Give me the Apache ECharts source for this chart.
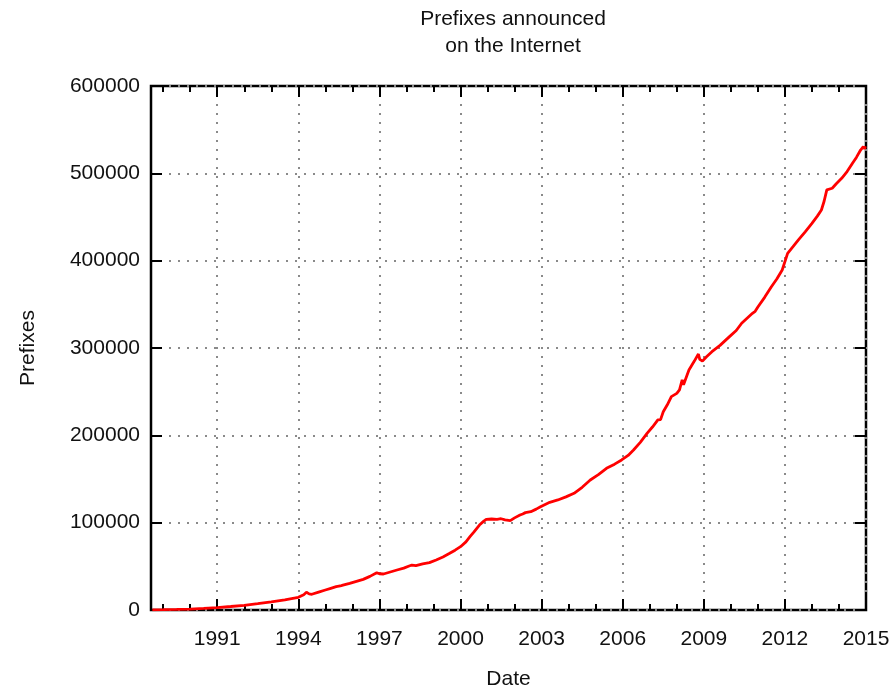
<!DOCTYPE html>
<html>
<head>
<meta charset="utf-8">
<script src="https://cdn.jsdelivr.net/npm/echarts@6/dist/echarts.min.js"></script>
<style>html,body{margin:0;padding:0;background:#fff;}#c{width:891px;height:686px;}</style>
</head>
<body>
<div id="c"></div>
<script>
const years = [1988.6,1989.0,1989.5,1990.0,1990.5,1991.0,1991.5,1992.0,1992.5,1993.0,1993.5,1994.0,1994.2,1994.3,1994.4,1994.5,1994.75,1995.0,1995.2,1995.4,1995.55,1995.6,1995.65,1995.9,1996.15,1996.4,1996.65,1996.9,1997.0,1997.15,1997.4,1997.65,1997.9,1998.1,1998.2,1998.35,1998.6,1998.85,1999.1,1999.35,1999.6,1999.8,2000.0,2000.2,2000.35,2000.5,2000.7,2000.85,2000.95,2001.15,2001.35,2001.5,2001.65,2001.84,2002.0,2002.2,2002.3,2002.4,2002.6,2002.8,2002.96,2003.3,2003.6,2003.9,2004.2,2004.5,2004.8,2005.1,2005.4,2005.7,2005.96,2006.2,2006.4,2006.65,2006.9,2007.1,2007.3,2007.4,2007.5,2007.65,2007.8,2008.0,2008.1,2008.2,2008.25,2008.45,2008.65,2008.8,2008.85,2008.95,2009.1,2009.3,2009.6,2009.95,2010.2,2010.4,2010.6,2010.8,2010.9,2011.0,2011.25,2011.5,2011.7,2011.9,2012.1,2012.3,2012.5,2012.75,2013.0,2013.2,2013.35,2013.45,2013.55,2013.75,2013.9,2014.1,2014.3,2014.5,2014.65,2014.8,2014.9,2014.95,2014.98];
const prefixes = [200,400,700,1100,1800,2800,4000,5400,7200,9200,11700,14500,17500,20300,18500,18000,20500,22900,24800,26700,27500,25500,28500,30500,32800,35100,38500,42700,41500,41200,43500,45800,48000,50400,51500,50800,52700,54200,57300,60800,64900,68500,72500,78000,84000,89500,97300,101500,103800,104200,103800,104500,103200,102300,105500,108800,110000,111500,112600,115500,118300,123300,126000,129500,133600,140500,148900,155000,162200,167000,171800,177000,183200,192000,202300,209500,217600,218000,227000,235000,244300,248000,252000,263400,258000,274800,285000,293100,287000,285000,290000,295800,303000,313000,320000,328300,334000,339700,342000,347000,358000,370200,379000,389300,408400,416000,423700,433000,442800,451000,458000,468000,481000,482900,488000,494300,502000,511500,518500,526700,530500,528000,531000];
const majorYears = [1991,1994,1997,2000,2003,2006,2009,2012,2015];
const minorYears = [1989,1990,1992,1993,1995,1996,1998,1999,2001,2002,2004,2005,2007,2008,2010,2011,2013,2014];
const xMin = 1988.55, xMax = 2015;

const FONT = 'Liberation Sans, Arial, sans-serif';
const TXT = '#111';
const grid = {type: [2, 7], color: '#8a8a8a', width: 2};

const chart = echarts.init(document.getElementById('c'));
function xAx(pos, vals, len, labels, split) {
  return {
    type: 'value', position: pos, min: xMin, max: xMax,
    axisLine: {show: false},
    axisTick: {show: true, inside: true, length: len, customValues: vals, lineStyle: {color: '#000', width: 2}},
    axisLabel: {show: labels, customValues: vals, formatter: v => String(v), color: TXT, fontSize: 21, fontFamily: FONT, margin: 19},
    splitLine: {show: split, lineStyle: grid},
    name: labels ? 'Date' : '', nameLocation: 'middle', nameGap: 59,
    nameTextStyle: {color: TXT, fontSize: 21, fontFamily: FONT}
  };
}
chart.setOption({
  animation: false,
  backgroundColor: '#fff',
  title: {
    text: 'Prefixes announced\non the Internet',
    left: 508, top: 1, textAlign: 'center',
    textStyle: {color: TXT, fontSize: 21, fontWeight: 'normal', fontFamily: FONT, lineHeight: 27}
  },
  grid: {left: 151, right: 25, top: 86, bottom: 76, show: true, borderColor: '#000', borderWidth: 2.5, backgroundColor: 'transparent', containLabel: false, outerBoundsMode: 'none'},
  xAxis: [
    xAx('bottom', majorYears, 11, true, true),
    xAx('bottom', minorYears, 6, false, false),
    xAx('top', majorYears, 11, false, false),
    xAx('top', minorYears, 6, false, false)
  ],
  yAxis: [
    {
      type: 'value', position: 'left', min: 0, max: 600000, interval: 100000,
      axisLine: {show: false},
      axisTick: {show: true, inside: true, length: 11, lineStyle: {color: '#000', width: 2}},
      axisLabel: {formatter: v => String(v), color: TXT, fontSize: 21, fontFamily: FONT, margin: 11},
      splitLine: {show: true, lineStyle: grid},
      name: 'Prefixes', nameLocation: 'middle', nameGap: 112,
      nameTextStyle: {color: TXT, fontSize: 21, fontFamily: FONT}
    },
    {
      type: 'value', position: 'right', min: 0, max: 600000, interval: 100000,
      axisLine: {show: false},
      axisTick: {show: true, inside: true, length: 11, lineStyle: {color: '#000', width: 2}},
      axisLabel: {show: false},
      splitLine: {show: false}
    }
  ],
  series: [{
    type: 'line', xAxisIndex: 0, yAxisIndex: 0,
    data: years.map((y, i) => [y, prefixes[i]]),
    showSymbol: false, symbol: 'none',
    lineStyle: {color: '#ff0000', width: 2.8},
    itemStyle: {color: '#ff0000'}
  }]
});
</script>
</body>
</html>
